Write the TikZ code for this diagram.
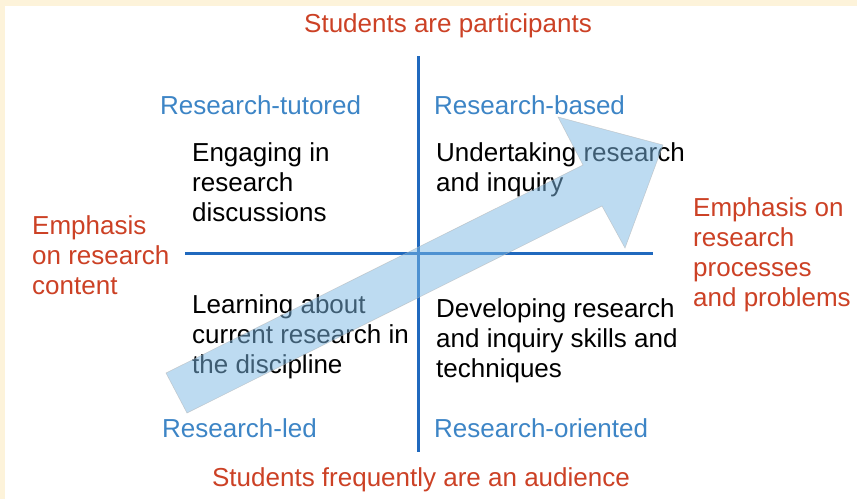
\documentclass[tikz,border=0pt]{standalone}
\usepackage{fontspec}
\setmainfont{Liberation Sans}
\definecolor{cream}{HTML}{FDF3DA}
\definecolor{redtxt}{HTML}{CC4125}
\definecolor{bluetxt}{HTML}{3D85C6}
\definecolor{axisblue}{HTML}{2069BE}
\definecolor{arrowblue}{RGB}{125,185,229}
\begin{document}
\begin{tikzpicture}[x=1pt,y=-1pt,
  lbl/.style={inner sep=0pt,font=\fontsize{26}{30}\selectfont},
  redlbl/.style={lbl,text=redtxt},
  bluelbl/.style={lbl,text=bluetxt,anchor=west},
  blk/.style={lbl,text=black,align=left,anchor=west},
  axisline/.style={draw=axisblue,line width=3pt},
  bigarrow/.style={fill=arrowblue,fill opacity=0.5,draw=gray!60,draw opacity=0.6,line width=0.5pt,line join=miter}]
\useasboundingbox (0,0) rectangle (857,499);
\fill[cream] (0,0) rectangle (857,499);
\fill[white] (5,6) rectangle (857,499);
% axes
\coordinate (vt) at (418.5,56);
\coordinate (vb) at (418.5,452);
\coordinate (hl) at (185,253.5);
\coordinate (hr) at (653,253.5);
\draw[axisline] (vt) -- (vb);
\draw[axisline] (hl) -- (hr);
% outer labels
\node[redlbl] (top) at (448,26) {Students are participants};
\node[redlbl] (bot) at (421,480) {Students frequently are an audience};
\node[redlbl,align=left,anchor=west] (left) at (32,255) {Emphasis\\on research\\content};
\node[redlbl,align=left,anchor=west] (right) at (693,255) {Emphasis on\\research\\processes\\and problems};
% quadrant titles
\node[bluelbl] (rt) at (160,105) {Research-tutored};
\node[bluelbl] (rb) at (434,105) {Research-based};
\node[bluelbl] (rl) at (162,428) {Research-led};
\node[bluelbl] (ro) at (434,428) {Research-oriented};
% quadrant texts
\node[blk] (q1) at (192,182) {Engaging in\\research\\discussions};
\node[blk] (q2) at (436,170) {Undertaking research\\and inquiry};
\node[blk] (q3) at (192,337) {Learning about\\current research in\\the discipline};
\node[blk] (q4) at (436,341) {Developing research\\and inquiry skills and\\techniques};
% big arrow
\draw[bigarrow] (166,373) -- (583,165) -- (558,117) -- (663,145) -- (625,248) -- (602,206) -- (187,413) -- cycle;
\end{tikzpicture}
\end{document}
